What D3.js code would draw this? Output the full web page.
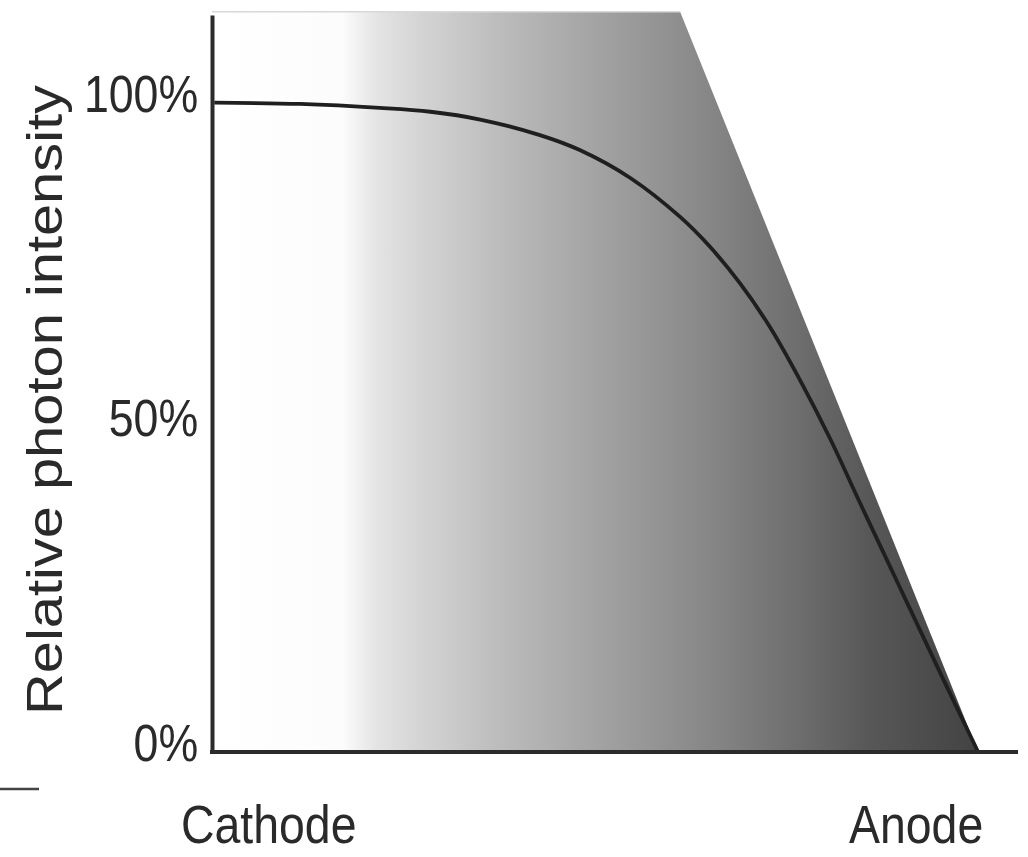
<!DOCTYPE html>
<html>
<head>
<meta charset="utf-8">
<script src="https://cdn.jsdelivr.net/npm/d3@7"></script>
<style>
  html, body { margin: 0; padding: 0; background: #fff; }
  svg { display: block; }
  text { font-family: "Liberation Sans", Arial, sans-serif; fill: #2a2a2a; }
</style>
</head>
<body>
<svg id="chart" width="1028" height="857"></svg>
<script>
// ---- data ----
const position = [0.003, 0.115, 0.219, 0.285, 0.350, 0.428, 0.480, 0.546, 0.611, 0.650, 0.689, 0.728, 0.767, 0.807, 0.846, 0.898, 0.950, 1.0];
const intensity = [100, 99.8, 99.2, 98.6, 97.4, 95.0, 92.7, 88.4, 82.4, 77.8, 72.2, 65.5, 57.4, 48.2, 38.3, 25.3, 12.3, 0];
const tubeX = [0, 0, 0.611, 1.0];
const tubeY = [0, 114, 114, 0];
const yTicks = [0, 50, 100];
const yTickLabels = ["0%", "50%", "100%"];
const xLabels = ["Cathode", "Anode"];
const xLabelPos = [0.074, 0.919];
const yTitle = "Relative photon intensity";

// ---- chart ----
const svg = d3.select("#chart");
const x = d3.scaleLinear().domain([0, 1.052]).range([212, 1018]);
const y = d3.scaleLinear().domain([0, 113.5]).range([752, 15]);
const condense = "scale(0.86,1)";

const defs = svg.append("defs");
const grad = defs.append("linearGradient")
  .attr("id", "tubeGrad")
  .attr("gradientUnits", "userSpaceOnUse")
  .attr("x1", x(0)).attr("x2", x(1)).attr("y1", 0).attr("y2", 0);
const stops = [
  [0, "#ffffff"], [0.17, "#fcfcfc"], [0.215, "#e4e4e4"], [0.272, "#d4d4d4"],
  [0.376, "#bcbcbc"], [0.507, "#a2a2a2"], [0.637, "#898989"], [0.768, "#6d6d6d"],
  [0.859, "#575757"], [1, "#434343"]
];
grad.selectAll("stop").data(stops).join("stop")
  .attr("offset", d => d[0]).attr("stop-color", d => d[1]);

const tube = tubeX.map((v, i) => [x(v), y(tubeY[i])]);
svg.append("path")
  .attr("d", d3.line()(tube) + "Z")
  .attr("fill", "url(#tubeGrad)");
svg.append("line")
  .attr("x1", x(0)).attr("x2", x(tubeX[2]))
  .attr("y1", y(tubeY[1])).attr("y2", y(tubeY[1]))
  .attr("stroke", "#d8d8d8").attr("stroke-width", 1.5);

// curve
const pts = position.map((p, i) => [p, intensity[i]]);
svg.append("path")
  .datum(pts)
  .attr("fill", "none")
  .attr("stroke", "#1f1f1f")
  .attr("stroke-width", 3.8)
  .attr("d", d3.line().x(d => x(d[0])).y(d => y(d[1])).curve(d3.curveCatmullRom.alpha(0.5)));

// axes
const yAxis = svg.append("g")
  .attr("transform", `translate(${x(0)},0)`)
  .call(d3.axisLeft(y).tickValues(yTicks).tickSize(0).tickSizeOuter(0).tickPadding(16)
    .tickFormat((d, i) => yTickLabels[i]));
yAxis.select(".domain").attr("stroke", "#2b2b2b").attr("stroke-width", 4);
yAxis.selectAll("text")
  .attr("font-size", 52)
  .attr("dy", "0.32em")
  .attr("y", -8)
  .attr("transform", condense)
  .style("font-family", '"Liberation Sans", Arial, sans-serif')
  .attr("fill", "#2a2a2a");

const xAxis = svg.append("g")
  .attr("transform", `translate(0,${y(0)})`)
  .call(d3.axisBottom(x).tickValues([]).tickSizeOuter(0));
xAxis.select(".domain").attr("stroke", "#2b2b2b").attr("stroke-width", 4)
  .attr("d", `M${x(0) - 2},0H${x(1.052)}`);

// x end labels
svg.selectAll("g.xlab").data(xLabels).join("g")
  .attr("class", "xlab")
  .attr("transform", (d, i) => `translate(${x(xLabelPos[i])},843) ${condense}`)
  .append("text")
  .attr("text-anchor", "middle").attr("font-size", 54).text(d => d);

// y title
svg.append("text")
  .attr("transform", "translate(62,400) rotate(-90)")
  .attr("text-anchor", "middle")
  .attr("font-size", 50)
  .attr("textLength", 630)
  .attr("lengthAdjust", "spacingAndGlyphs")
  .text(yTitle);

// small dash at lower left
svg.append("line")
  .attr("x1", 0).attr("x2", 39).attr("y1", 789).attr("y2", 789)
  .attr("stroke", "#444").attr("stroke-width", 2.5);
</script>
</body>
</html>
